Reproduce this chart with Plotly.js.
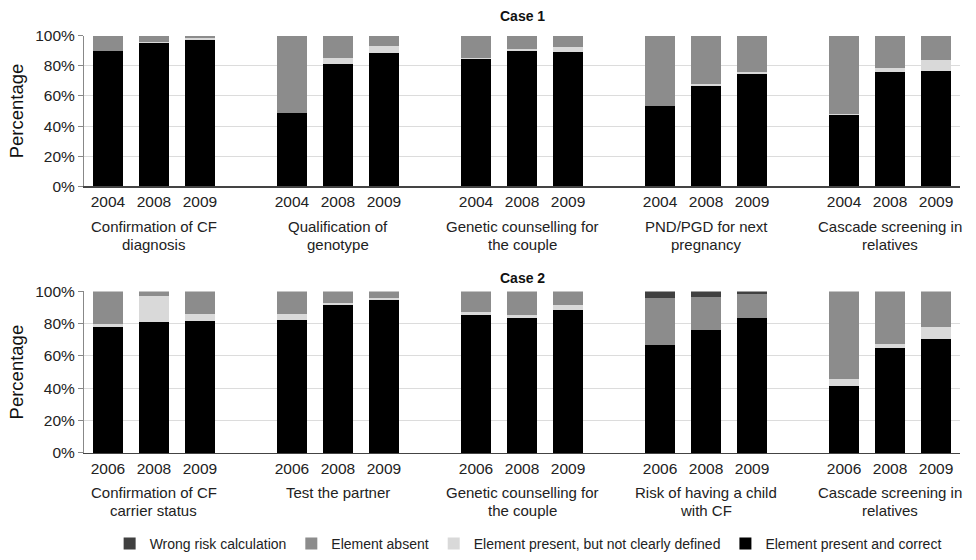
<!DOCTYPE html>
<html><head><meta charset="utf-8">
<script src="https://cdn.plot.ly/plotly-3.0.1.min.js"></script>
<style>html,body{margin:0;padding:0;background:#fff}#chart{width:976px;height:560px}</style>
</head><body><div id="chart"></div>
<script>
const years1 = ['2004','2008','2009'];
const years2 = ['2006','2008','2009'];
const groups1 = ['Confirmation of CF<br>diagnosis','Qualification of<br>genotype','Genetic counselling for<br>the couple','PND/PGD for next<br>pregnancy','Cascade screening in<br>relatives'];
const groups2 = ['Confirmation of CF<br>carrier status','Test the partner','Genetic counselling for<br>the couple','Risk of having a child<br>with CF','Cascade screening in<br>relatives'];
const seriesNames = ['Element present and correct','Element present, but not clearly defined','Element absent','Wrong risk calculation'];
const yTicks = [0,20,40,60,80,100];
const yTickText = ['0%','20%','40%','60%','80%','100%'];

const case1Correct = [90,95,97, 48.5,81,88.7, 84.5,89.5,89.1, 53.5,66.8,74.7, 47.2,75.8,76.7];
const case1Unclear = [0,1,1.5, 0,4.4,4.3, 0.5,1.8,3.5, 0,0.9,1.1, 0.8,2.8,7.2];
const case1Absent  = [10,4,1.5, 51.5,14.6,7, 15,8.7,7.4, 46.5,32.3,24.2, 52,21.4,16.1];

const case2Correct = [78.1,80.9,81.7, 82.2,91.6,94.7, 85.1,83.6,88.3, 66.6,76.2,83.4, 41.4,65.2,70.5];
const case2Unclear = [2,16.2,4, 3.9,1.4,1, 2.4,1.8,3.3, 0,0,0, 4.1,2.2,7.4];
const case2Absent  = [19.9,2.9,14.3, 13.9,7,4.3, 12.5,14.6,8.4, 29.3,20.3,14.8, 54.5,32.6,22.1];
const case2Wrong   = [0,0,0, 0,0,0, 0,0,0, 4.1,3.5,1.8, 0,0,0];

const colors = ['#000000','#d9d9d9','#8c8c8c','#404040'];
const FONT = '"Liberation Sans", Arial, sans-serif';

function positions(groups, years){
  const xs=[], labels=[];
  groups.forEach((g,gi)=>years.forEach((y,yi)=>{xs.push(gi*4+yi); labels.push(y);}));
  return {xs, labels};
}
const p1 = positions(groups1, years1);
const p2 = positions(groups2, years2);

const traces = [];
function addBar(x, y, xa, ya, idx, show){
  traces.push({type:'bar', x:x, y:y, xaxis:xa, yaxis:ya, name:seriesNames[idx],
    marker:{color:colors[idx], line:{width:0}}, showlegend:show, legendgroup:'s'+idx, hoverinfo:'skip'});
}
addBar(p1.xs, case1Correct, 'x','y',0,false);
addBar(p1.xs, case1Unclear, 'x','y',1,false);
addBar(p1.xs, case1Absent, 'x','y',2,false);
addBar(p2.xs, case2Correct, 'x2','y2',0,true);
addBar(p2.xs, case2Unclear, 'x2','y2',1,true);
addBar(p2.xs, case2Absent, 'x2','y2',2,true);
addBar(p2.xs, case2Wrong, 'x2','y2',3,true);

const H = 560;
const pf = px => 1 - px/H;

function xaxis(p, anchor){
  return {domain:[0,1], anchor:anchor, range:[-0.52,18.52], tickvals:p.xs, ticktext:p.labels,
    showgrid:false, zeroline:false, showline:true, linecolor:'#444', linewidth:1.5, ticks:'',
    ticklabelstandoff:1,
    tickfont:{family:FONT,size:15.5,color:'#222'}, fixedrange:true};
}
function yaxis(dom, anchor){
  return {domain:dom, anchor:anchor, range:[0,100], tickvals:yTicks, ticktext:yTickText,
    showgrid:true, gridcolor:'#dcdcdc', gridwidth:1, zeroline:false, showline:true, linecolor:'#888', linewidth:1,
    ticks:'outside', ticklen:5, tickcolor:'#888',
    tickfont:{family:FONT,size:15.5,color:'#222'},
    title:{text:'Percentage', font:{family:FONT,size:18.5,color:'#111'}, standoff:6}, fixedrange:true};
}

const annotations = [
  {text:'<b>Case 1</b>', xref:'paper', yref:'paper', x:0.5, y:pf(16), xanchor:'center', yanchor:'middle', showarrow:false, font:{family:FONT,size:14,color:'#111'}},
  {text:'<b>Case 2</b>', xref:'paper', yref:'paper', x:0.5, y:pf(280), xanchor:'center', yanchor:'middle', showarrow:false, font:{family:FONT,size:14,color:'#111'}}
];
function addGroupLabels(groups, xref, firstLineY){
  groups.forEach((g,gi)=>g.split('<br>').forEach((line,li)=>annotations.push({
    text:line, xref:xref, yref:'paper', x:gi*4+1, y:pf(firstLineY+li*18), xanchor:'center', yanchor:'middle',
    showarrow:false, font:{family:FONT,size:15,color:'#222'}})));
}
addGroupLabels(groups1,'x',229);
addGroupLabels(groups2,'x2',497);

const layout = {
  width:976, height:560, margin:{l:84,r:16,t:0,b:0}, paper_bgcolor:'#fff', plot_bgcolor:'#fff',
  barmode:'stack', bargap:0.35, font:{family:FONT},
  xaxis: xaxis(p1,'y'), yaxis: yaxis([pf(188), pf(36)],'x'),
  xaxis2: xaxis(p2,'y2'), yaxis2: yaxis([pf(457), pf(294)],'x2'),
  showlegend:true,
  legend:{orientation:'h', x:0.507, xanchor:'center', y:pf(549), yanchor:'middle', traceorder:'reversed',
    font:{family:FONT,size:14,color:'#222'}, itemwidth:30, bgcolor:'rgba(0,0,0,0)'},
  annotations: annotations
};
Plotly.newPlot('chart', traces, layout, {displayModeBar:false, staticPlot:true});
</script></body></html>
